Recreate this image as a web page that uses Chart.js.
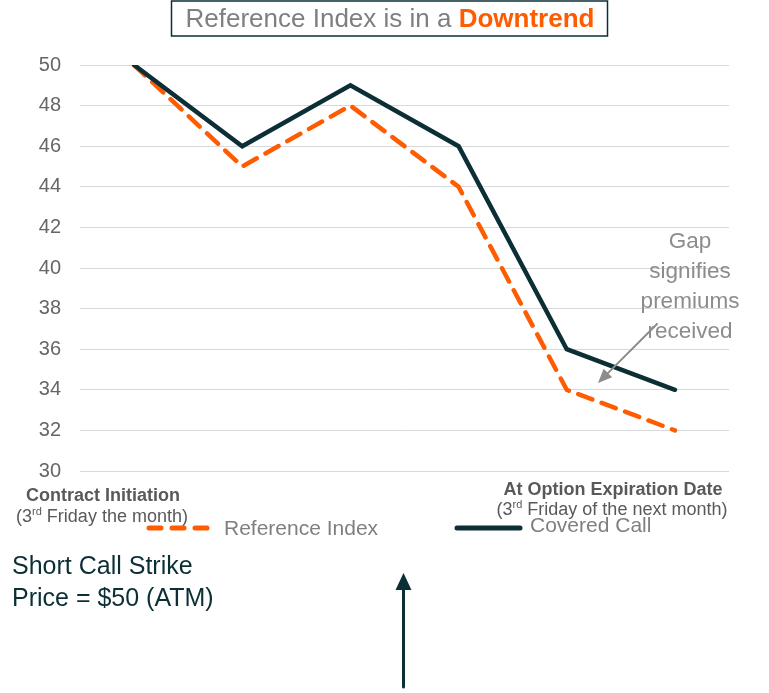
<!DOCTYPE html>
<html>
<head>
<meta charset="utf-8">
<script src="https://cdn.jsdelivr.net/npm/chart.js@4/dist/chart.umd.min.js"></script>
<style>
  body { margin: 0; background: #fff; }
  #wrap { width: 769px; height: 693px; position: relative; }
</style>
</head>
<body>
<div id="wrap"><canvas id="chart"></canvas></div>
<script>
var steps = ["Start", "2", "3", "4", "5", "Expiration"];
var referenceIndex = [50, 45, 48, 44, 34, 32];
var coveredCall = [50, 46, 49, 46, 36, 34];
var yTicks = [30, 32, 34, 36, 38, 40, 42, 44, 46, 48, 50];

var ORANGE = "#ff5b00";
var TEAL = "#0b2f35";
var GRAY = "#7f7f7f";
var FONT = "'Liberation Sans', Arial, sans-serif";

// text with a small raised "rd", centered
function drawSup(ctx, pre, sup, post, x, y, size) {
    ctx.font = size + "px " + FONT;
    var w1 = ctx.measureText(pre).width;
    var w3 = ctx.measureText(post).width;
    ctx.font = Math.round(size * 0.62) + "px " + FONT;
    var w2 = ctx.measureText(sup).width;
    var sx = x - (w1 + w2 + w3) / 2;
    ctx.textAlign = "left";
    ctx.font = size + "px " + FONT;
    ctx.fillText(pre, sx, y);
    ctx.font = Math.round(size * 0.62) + "px " + FONT;
    ctx.fillText(sup, sx + w1, y - size * 0.38);
    ctx.font = size + "px " + FONT;
    ctx.fillText(post, sx + w1 + w2, y);
}

function arrow(ctx, x1, y1, x2, y2, color, width, head, half) {
    var a = Math.atan2(y2 - y1, x2 - x1);
    var ca = Math.cos(a), sa = Math.sin(a);
    ctx.strokeStyle = color;
    ctx.fillStyle = color;
    ctx.lineWidth = width;
    ctx.setLineDash([]);
    ctx.beginPath();
    ctx.moveTo(x1, y1);
    ctx.lineTo(x2 - ca * head * 0.9, y2 - sa * head * 0.9);
    ctx.stroke();
    ctx.beginPath();
    ctx.moveTo(x2, y2);
    ctx.lineTo(x2 - ca * head - sa * half, y2 - sa * head + ca * half);
    ctx.lineTo(x2 - ca * head + sa * half, y2 - sa * head - ca * half);
    ctx.closePath();
    ctx.fill();
}

var extras = {
    id: "extras",
    afterDraw(chart) {
        const ctx = chart.ctx;
        ctx.save();
        ctx.textBaseline = "alphabetic";

        // title box
        ctx.font = "26px " + FONT;
        const t1 = "Reference Index is in a ";
        const w1 = ctx.measureText(t1).width;
        ctx.font = "bold 26px " + FONT;
        const w2 = ctx.measureText("Downtrend").width;
        const tx = 390 - (w1 + w2) / 2;
        ctx.strokeStyle = TEAL;
        ctx.lineWidth = 1.5;
        ctx.strokeRect(171.5, 1, 436, 35);
        ctx.fillStyle = GRAY;
        ctx.font = "26px " + FONT;
        ctx.textAlign = "left";
        ctx.fillText(t1, tx, 27);
        ctx.fillStyle = ORANGE;
        ctx.font = "bold 26px " + FONT;
        ctx.fillText("Downtrend", tx + w1, 27);

        // axis end captions
        ctx.fillStyle = "#595959";
        ctx.textAlign = "center";
        ctx.font = "bold 18px " + FONT;
        ctx.fillText("Contract Initiation", 103, 501);
        drawSup(ctx, "(3", "rd", " Friday the month)", 102, 522, 18);
        ctx.textAlign = "center";
        ctx.font = "bold 18px " + FONT;
        ctx.fillText("At Option Expiration Date", 613, 495);
        drawSup(ctx, "(3", "rd", " Friday of the next month)", 612, 515, 18);

        // legend
        const ds = chart.data.datasets;
        const items = [[ds[0], 147, 207, 224, 535], [ds[1], 455, 520, 530, 532]];
        items.forEach(function (it) {
            const d = it[0];
            ctx.strokeStyle = d.borderColor;
            ctx.lineWidth = 5;
            ctx.lineCap = "round";
            ctx.setLineDash(d.borderDash ? [12, 11] : []);
            ctx.beginPath();
            ctx.moveTo(it[1] + 2, 528);
            ctx.lineTo(it[2], 528);
            ctx.stroke();
            ctx.setLineDash([]);
            ctx.fillStyle = GRAY;
            ctx.font = "21px " + FONT;
            ctx.textAlign = "left";
            ctx.fillText(d.label, it[3], it[4]);
        });

        // gap note
        ctx.fillStyle = "#8c8c8c";
        ctx.font = "22.5px " + FONT;
        ctx.textAlign = "center";
        ["Gap", "signifies", "premiums", "received"].forEach(function (s, i) {
            ctx.fillText(s, 690, 248 + i * 30);
        });
        arrow(ctx, 657, 324, 598, 383, "#8c8c8c", 2, 14, 6);

        // strike note
        ctx.fillStyle = TEAL;
        ctx.font = "25px " + FONT;
        ctx.textAlign = "left";
        ctx.fillText("Short Call Strike", 12, 574);
        ctx.fillText("Price = $50 (ATM)", 12, 606);
        arrow(ctx, 403.5, 687, 403.5, 573, TEAL, 3, 17, 8);

        ctx.restore();
    }
};

new Chart(document.getElementById("chart"), {
    type: "line",
    data: {
        labels: steps,
        datasets: [{
            label: "Reference Index",
            data: referenceIndex,
            borderColor: ORANGE,
            borderWidth: 4.5,
            borderDash: [15, 10],
            borderCapStyle: "round",
            pointRadius: 0,
            tension: 0,
            order: 1
        }, {
            label: "Covered Call",
            data: coveredCall,
            borderColor: TEAL,
            borderWidth: 4.5,
            borderCapStyle: "round",
            pointRadius: 0,
            tension: 0,
            order: 0
        }]
    },
    options: {
        responsive: true,
        maintainAspectRatio: false,
        animation: false,
        layout: { padding: { top: 65, bottom: 222, right: 40, left: 0 } },
        plugins: { legend: { display: false }, tooltip: { enabled: false } },
        scales: {
            x: { display: false, offset: true },
            y: {
                min: 30, max: 50,
                afterBuildTicks: function (axis) {
                    axis.ticks = yTicks.map(function (v) { return { value: v }; });
                },
                afterFit: function (axis) { axis.width = 80; },
                border: { display: false },
                grid: { color: "#d9d9d9", lineWidth: 1, drawTicks: false },
                ticks: {
                    color: "#666666",
                    padding: 19,
                    font: { family: FONT, size: 20 }
                }
            }
        }
    },
    plugins: [extras]
});
</script>
</body>
</html>
